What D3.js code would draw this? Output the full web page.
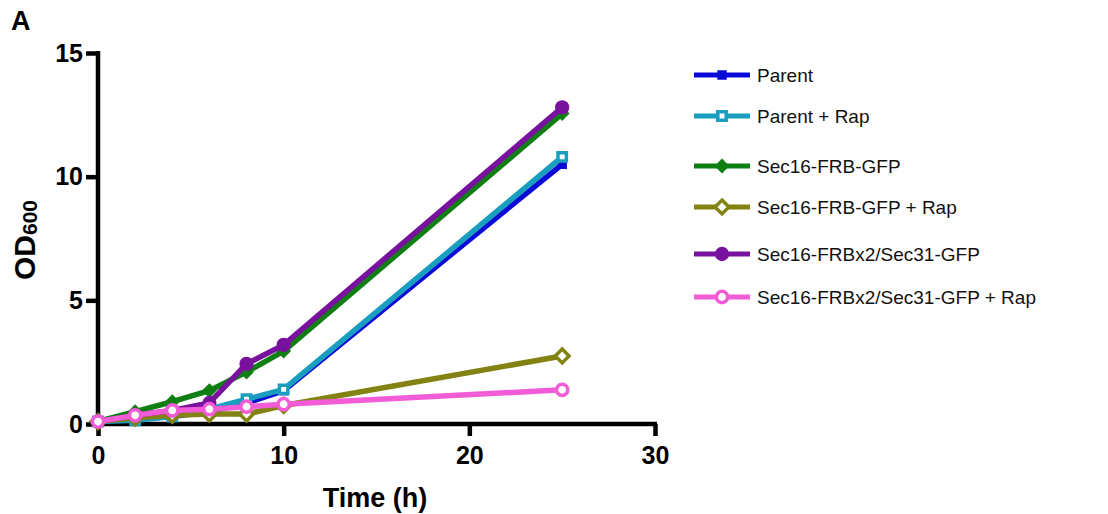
<!DOCTYPE html>
<html>
<head>
<meta charset="utf-8">
<script src="https://cdn.jsdelivr.net/npm/d3@7"></script>
<style>
  body { margin: 0; background: #fff; }
  text { font-family: "Liberation Sans", Arial, sans-serif; }
</style>
</head>
<body>
<div id="wrapper"></div>
<script>
const hours = [0, 2, 4, 6, 8, 10, 25];
const seriesNames = [
  "Parent",
  "Parent + Rap",
  "Sec16-FRB-GFP",
  "Sec16-FRB-GFP + Rap",
  "Sec16-FRBx2/Sec31-GFP",
  "Sec16-FRBx2/Sec31-GFP + Rap",
];
const parent = [0.1, 0.2, 0.3, 0.5, 0.85, 1.35, 10.5];
const parentRap = [0.1, 0.15, 0.3, 0.6, 1.0, 1.4, 10.8];
const sec16 = [0.1, 0.5, 0.9, 1.35, 2.1, 2.95, 12.55];
const sec16Rap = [0.1, 0.25, 0.35, 0.4, 0.4, 0.75, 2.75];
const sec16x2 = [0.1, 0.35, 0.55, 0.85, 2.43, 3.2, 12.8];
const sec16x2Rap = [0.1, 0.35, 0.55, 0.6, 0.7, 0.8, 1.38];
const xTicks = [0, 10, 20, 30];
const yTicks = [0, 5, 10, 15];

const colors = ["#0a0ad6", "#1a9ec0", "#0f7f14", "#838313", "#78129e", "#f25cd6"];
const shapes = ["square", "squareOpen", "diamond", "diamondOpen", "circle", "circleOpen"];
const values = [parent, parentRap, sec16, sec16Rap, sec16x2, sec16x2Rap];

const series = seriesNames.map((name, i) => ({
  name,
  color: colors[i],
  shape: shapes[i],
  points: hours.map((h, j) => ({ x: h, y: values[i][j] })),
}));

const dimensions = {
  width: 1108,
  height: 514,
  margins: { top: 53, right: 453, bottom: 90, left: 98 },
};
dimensions.boundedWidth = dimensions.width - dimensions.margins.left - dimensions.margins.right;
dimensions.boundedHeight = dimensions.height - dimensions.margins.top - dimensions.margins.bottom;

const wrapper = d3.select("#wrapper").append("svg")
  .attr("width", dimensions.width)
  .attr("height", dimensions.height);

const bounds = wrapper.append("g")
  .attr("transform", `translate(${dimensions.margins.left},${dimensions.margins.top})`);

const xScale = d3.scaleLinear().domain([0, 30]).range([0, dimensions.boundedWidth]);
const yScale = d3.scaleLinear().domain([0, 15]).range([dimensions.boundedHeight, 0]);

// axes
const xAxis = bounds.append("g")
  .attr("transform", `translate(0,${dimensions.boundedHeight})`)
  .call(d3.axisBottom(xScale).tickValues(xTicks).tickSize(12).tickPadding(10).tickSizeOuter(0));
const yAxis = bounds.append("g")
  .call(d3.axisLeft(yScale).tickValues(yTicks).tickSize(12).tickPadding(3).tickSizeOuter(0));

[xAxis, yAxis].forEach(ax => {
  ax.select(".domain").attr("stroke", "#000").attr("stroke-width", 4.5);
  ax.selectAll(".tick line").attr("stroke", "#000").attr("stroke-width", 4.5);
  ax.selectAll(".tick text")
    .attr("fill", "#000")
    .style("font-size", "25px")
    .style("font-weight", "bold")
    .style("font-family", "'Liberation Sans', Arial, sans-serif");
});
xAxis.select(".domain").attr("d", `M-2,0H${dimensions.boundedWidth + 2}`);
yAxis.select(".domain").attr("d", `M0,${dimensions.boundedHeight + 2}V-2`);

// lines and markers
const lineGenerator = d3.line()
  .x(d => xScale(d.x))
  .y(d => yScale(d.y));

// a square turned 45 degrees, as wide as it is tall
const symbolRhombus = {
  draw(context, size) {
    const r = Math.sqrt(size / 2);
    context.moveTo(0, -r);
    context.lineTo(r, 0);
    context.lineTo(0, r);
    context.lineTo(-r, 0);
    context.closePath();
  },
};

const symbolFor = {
  square: d3.symbolSquare,
  squareOpen: d3.symbolSquare,
  diamond: symbolRhombus,
  diamondOpen: symbolRhombus,
  circle: d3.symbolCircle,
  circleOpen: d3.symbolCircle,
};
const sizeFor = { square: 90, squareOpen: 70, diamond: 110, diamondOpen: 95, circle: 160, circleOpen: 100 };

function drawMarker(g, s) {
  const open = s.shape.endsWith("Open");
  g.append("path")
    .attr("d", d3.symbol().type(symbolFor[s.shape]).size(sizeFor[s.shape])())
    .attr("fill", open ? "#fff" : s.color)
    .attr("stroke", s.color)
    .attr("stroke-width", open ? 3.5 : 0);
}

series.forEach(s => {
  const g = bounds.append("g");
  g.append("path")
    .attr("d", lineGenerator(s.points))
    .attr("fill", "none")
    .attr("stroke", s.color)
    .attr("stroke-width", 5.5)
    .attr("stroke-linejoin", "round");
  s.points.forEach(p => {
    const m = g.append("g").attr("transform", `translate(${xScale(p.x)},${yScale(p.y)})`);
    drawMarker(m, s);
  });
});

// axis titles
wrapper.append("text")
  .attr("x", 375)
  .attr("y", 507)
  .attr("text-anchor", "middle")
  .style("font-size", "27px")
  .style("font-weight", "bold")
  .text("Time (h)");

const yTitle = wrapper.append("text")
  .attr("transform", "translate(35,240) rotate(-90)")
  .attr("text-anchor", "middle")
  .style("font-size", "30px")
  .style("font-weight", "bold");
yTitle.append("tspan").text("OD");
yTitle.append("tspan").attr("dy", 2).style("font-size", "21px").text("600");

wrapper.append("text")
  .attr("x", 11)
  .attr("y", 30)
  .style("font-size", "27px")
  .style("font-weight", "bold")
  .text("A");

// legend
const legendRows = [75, 116, 166, 207, 254, 297];
const legend = wrapper.append("g");
series.forEach((s, i) => {
  const row = legend.append("g").attr("transform", `translate(694,${legendRows[i]})`);
  row.append("line")
    .attr("x1", 0).attr("x2", 56)
    .attr("stroke", s.color)
    .attr("stroke-width", 5);
  const m = row.append("g").attr("transform", "translate(28,0)");
  drawMarker(m, s);
  row.append("text")
    .attr("x", 63)
    .attr("y", 7)
    .style("font-size", "19px")
    .attr("fill", "#111")
    .text(s.name);
});
</script>
</body>
</html>
